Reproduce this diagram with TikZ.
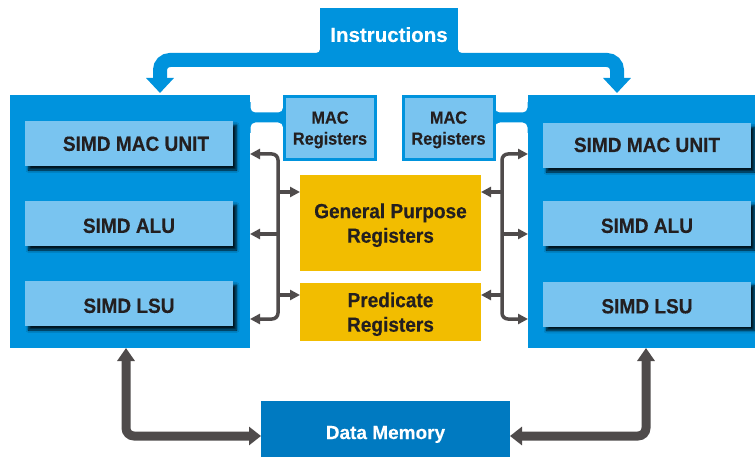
\documentclass[tikz,border=0pt]{standalone}
\usepackage{fontspec}
\setmainfont{Liberation Sans}
\newfontfamily\cf[FakeStretch=0.93,FakeBold=0.35]{Liberation Sans}
\newfontfamily\df[FakeBold=0.2]{Liberation Sans}
\usetikzlibrary{arrows.meta,shadows.blur}
\definecolor{bblue}{HTML}{0093DD}
\definecolor{lblue}{HTML}{79C4F0}
\definecolor{dblue}{HTML}{007AC1}
\definecolor{gold}{HTML}{F2BD00}
\definecolor{cgray}{HTML}{4F4B4B}
\definecolor{ink}{HTML}{231F20}
\begin{document}
\begin{tikzpicture}[x=1pt,y=-1pt,
  blk/.style={fill=bblue, draw=none, inner sep=0pt, outer sep=0pt},
  unit/.style={fill=lblue, inner sep=0pt, outer sep=0pt, minimum width=208pt, minimum height=45pt,
    font=\cf\bfseries\fontsize{20.5}{24}\selectfont, text=ink, text depth=0pt,
    blur shadow={shadow xshift=3.5pt, shadow yshift=-4pt, shadow blur steps=6, shadow opacity=85, shadow blur radius=2.5pt}},
  macreg/.style={fill=lblue, draw=bblue, line width=3pt, inner sep=0pt, outer sep=0pt,
    minimum width=91pt, minimum height=63pt, align=center,
    font=\cf\bfseries\fontsize{17.5}{21}\selectfont, text=ink, text depth=0pt},
  regbox/.style={fill=gold, inner sep=0pt, outer sep=0pt, minimum width=181pt, align=center,
    font=\cf\bfseries\fontsize{20.5}{24.5}\selectfont, text=ink, text depth=0pt},
  conn/.style={draw=cgray, line width=3.5pt, rounded corners=6pt},
  ctip/.style={-{Triangle[length=10pt,width=10pt]}},
  ctips/.style={{Triangle[length=10pt,width=10pt]}-{Triangle[length=10pt,width=10pt]}},
  big/.style={draw=cgray, line width=9pt, rounded corners=8pt,
    {Triangle[length=13pt,width=17pt]}-{Triangle[length=12pt,width=18pt]}},
  iarrow/.style={draw=bblue, line width=14pt, rounded corners=10pt,
    -{Triangle[length=15pt,width=27pt]}}
]
\useasboundingbox (0,0) rectangle (755,457);

% fillets at the instruction box junction
\fill[bblue] (313,46) rectangle (465,54);
\fill[white, rounded corners=4pt] (280,-20) rectangle (320,53);
\fill[white, rounded corners=4pt] (458,-20) rectangle (500,53);
% notches between blocks and MAC register boxes
\fill[bblue] (247,102) rectangle (286,133);
\fill[white, rounded corners=5pt] (250.5,80) rectangle (283,112.5);
\fill[white, rounded corners=5pt] (250.5,122.5) rectangle (283,150);
\fill[bblue] (492,102) rectangle (531,133);
\fill[white, rounded corners=5pt] (495,80) rectangle (527.5,112.5);
\fill[white, rounded corners=5pt] (495,122.5) rectangle (527.5,150);

% instructions
\node[blk, minimum width=138pt, minimum height=53pt, text=white, text depth=0pt,
  font=\df\bfseries\fontsize{20.5}{24}\selectfont] (instr) at (389,34.5) {Instructions};
\coordinate (ibar) at (389,60);
\coordinate (ltip) at (160,93);
\coordinate (rtip) at (617,93);
\draw[iarrow] (ibar) -| (ltip);
\draw[iarrow] (ibar) -| (rtip);

% blocks
\node[blk, minimum width=240pt, minimum height=253pt] (lblk) at (130,221.5) {};
\node[blk, minimum width=230pt, minimum height=253pt] (rblk) at (643,221.5) {};

% MAC registers
\node[macreg] (lmreg) at (330,128) {MAC\\Registers};
\node[macreg] (rmreg) at (448.5,128) {MAC\\Registers};

% units
\node[unit, text height=14.7pt] (lmac) at (129,143.5) {\hspace*{14pt}SIMD MAC UNIT};
\node[unit, text height=18.7pt] (lalu) at (129,223.5) {SIMD ALU};
\node[unit, text height=18.7pt] (llsu) at (129,303.5) {SIMD LSU};
\node[unit, text height=13pt] (rmac) at (647,145.5) {SIMD MAC UNIT};
\node[unit, text height=18.7pt] (ralu) at (647,223.5) {SIMD ALU};
\node[unit, text height=18.7pt] (rlsu) at (647,304) {SIMD LSU};

% registers
\node[regbox, minimum height=96pt] (gpr) at (390.5,223) {General Purpose\\Registers};
\node[regbox, minimum height=58pt] (pred) at (390.5,312) {Predicate\\Registers};

% data memory
\node[fill=dblue, inner sep=0pt, outer sep=0pt, minimum width=249pt, minimum height=63pt,
  text=white, text depth=0pt, font=\df\bfseries\fontsize{19}{23}\selectfont] (dmem) at (385.5,432.5) {Data Memory};

% register connectors, left
\coordinate (lyA) at (278,154);
\coordinate (lyB) at (278,234);
\coordinate (lyC) at (278,319);
\coordinate (lyG) at (278,192);
\coordinate (lyP) at (278,295);
\draw[conn, ctips] (lblk.east |- lyA) -- (lyA) -- (lyC) -- (lblk.east |- lyC);
\draw[conn, ctip] (lyB) -- (lblk.east |- lyB);
\draw[conn, ctip] (lyG) -- (gpr.west |- lyG);
\draw[conn, ctip] (lyP) -- (pred.west |- lyP);
% register connectors, right
\coordinate (ryA) at (502,154);
\coordinate (ryB) at (502,234);
\coordinate (ryC) at (502,319);
\coordinate (ryG) at (502,192);
\coordinate (ryP) at (502,295);
\draw[conn, ctips] (rblk.west |- ryA) -- (ryA) -- (ryC) -- (rblk.west |- ryC);
\draw[conn, ctip] (ryB) -- (rblk.west |- ryB);
\draw[conn, ctip] (ryG) -- (gpr.east |- ryG);
\draw[conn, ctip] (ryP) -- (pred.east |- ryP);

% data memory connectors
\coordinate (lbot) at (126,436);
\coordinate (rbot) at (646,436);
\draw[big] (lblk.south -| lbot) -- (lbot) -- (dmem.west |- lbot);
\draw[big] (rblk.south -| rbot) -- (rbot) -- (dmem.east |- rbot);
\end{tikzpicture}
\end{document}
